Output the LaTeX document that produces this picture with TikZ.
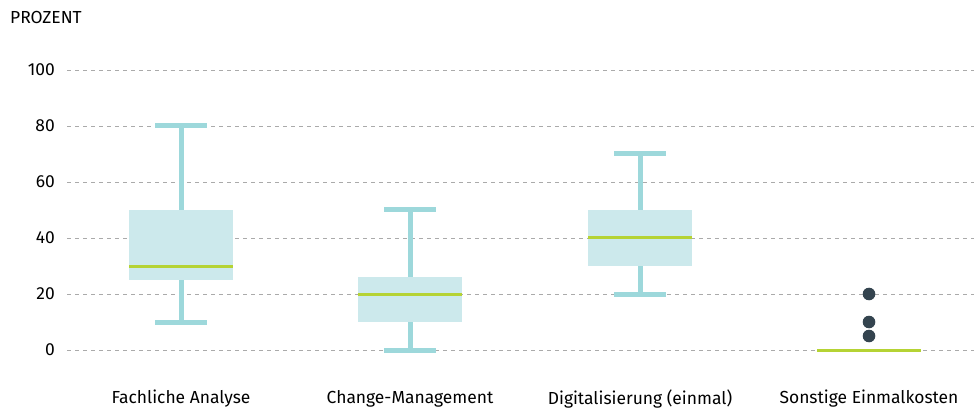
\documentclass[tikz,border=0pt]{standalone}
\usepackage{fontspec}
\setmainfont{Fira Sans}
\definecolor{boxfill}{HTML}{CCE9EC}
\definecolor{whiskercol}{HTML}{9DD8DB}
\definecolor{mediancol}{HTML}{B5D334}
\definecolor{dotcol}{HTML}{34444F}
\definecolor{gridcol}{HTML}{AAAAAA}
\begin{document}
\begin{tikzpicture}[x=1bp,y=2.8bp,font=\fontsize{17.5}{20}\selectfont,
    gridline/.style={gridcol,line width=0.9bp,dash pattern=on 4bp off 4bp},
    whisker/.style={whiskercol,line width=5bp},
    whiskercap/.style={fill=whiskercol,minimum width=52bp,minimum height=5bp,inner sep=0pt,outer sep=0pt},
    boxbody/.style={fill=boxfill,minimum width=104bp,inner sep=0pt,outer sep=0pt},
    median/.style={mediancol,line width=3bp},
    outlier/.style={circle,fill=dotcol,minimum size=12.6bp,inner sep=0pt}]
    \useasboundingbox (0,-21.786) rectangle (974,125);

    % grid and axis labels
    \node[anchor=west,inner sep=0pt] (unit) at (10,118.6) {PROZENT};
    \foreach \v in {0,20,...,100} {
        \coordinate (g\v-l) at (67,\v);
        \coordinate (g\v-r) at (974,\v);
        \draw[gridline] (g\v-l) -- (g\v-r);
        \node[anchor=east,inner sep=0pt] (tick\v) at (55,\v) {\v};
    }

    % boxes: name/center/low/q1/median/q3/high
    \foreach \name/\cx/\lo/\qa/\med/\qb/\hi in {fa/181/10/25/30/50/80, cm/410/0/10/20/26/50, dg/640/20/30/40/50/70} {
        \node[whiskercap] (\name-lo) at (\cx,\lo) {};
        \node[whiskercap] (\name-hi) at (\cx,\hi) {};
        \draw[whisker] (\name-lo.center) -- (\name-hi.center);
        \node[boxbody,minimum height={(\qb-\qa)*2.8bp}] (\name-box) at (\cx,{(\qa+\qb)/2}) {};
        \coordinate (\name-ml) at (\cx-52,\med);
        \coordinate (\name-mr) at (\cx+52,\med);
        \draw[median] (\name-ml) -- (\name-mr);
    }

    % Sonstige Einmalkosten
    \coordinate (so-ml) at (817,0);
    \coordinate (so-mr) at (921,0);
    \draw[median] (so-ml) -- (so-mr);
    \node[outlier] (so-o1) at (869,20) {};
    \node[outlier] (so-o2) at (869,10) {};
    \node[outlier] (so-o3) at (869,5) {};

    % category labels
    \node (lab-fa) at (181,-17.5) {Fachliche Analyse};
    \node (lab-cm) at (410,-17.5) {Change-Management};
    \node (lab-dg) at (640,-17.5) {Digitalisierung (einmal)};
    \node (lab-so) at (869,-17.5) {Sonstige Einmalkosten};
\end{tikzpicture}
\end{document}
